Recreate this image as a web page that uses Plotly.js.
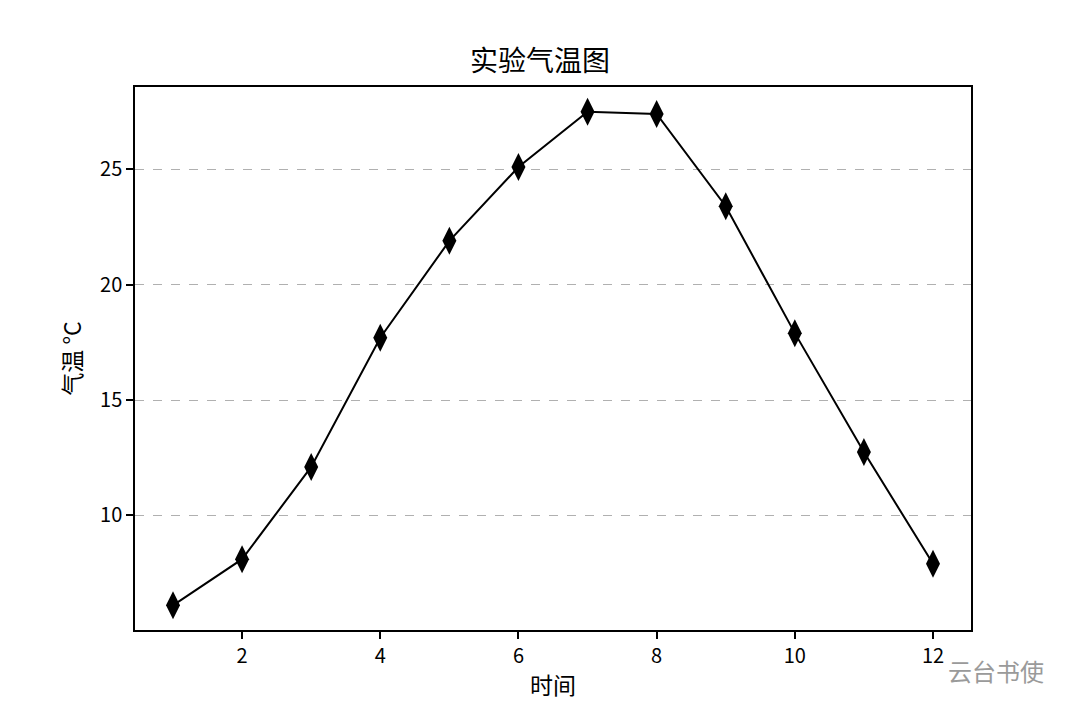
<!DOCTYPE html>
<html>
<head>
<meta charset="utf-8">
<script src="https://cdn.plot.ly/plotly-3.0.1.min.js"></script>
<style>
  body { margin: 0; background: #fff; }
  #plot-temp { width: 1080px; height: 720px; }
</style>
</head>
<body>
<div id="plot-temp"></div>
<script>
var hours = [1, 2, 3, 4, 5, 6, 7, 8, 9, 10, 11, 12];
var temps = [6.1, 8.1, 12.1, 17.7, 21.9, 25.1, 27.5, 27.4, 23.4, 17.9, 12.75, 7.9];
var xTicks = [2, 4, 6, 8, 10, 12];
var yTicks = [10, 15, 20, 25];

function plot_temp() {
    'use strict';

    var font = '"Noto Sans CJK SC", "DejaVu Sans", sans-serif';

    var trace = {
        type: "scatter",
        mode: "lines+markers",
        x: hours,
        y: temps,
        line: {color: "#000", width: 2},
        marker: {symbol: "diamond-tall", size: 20, color: "#000"}
    };

    var layout = {
        width: 1080,
        height: 720,
        margin: {l: 135, r: 109, t: 87, b: 90, pad: 0},
        showlegend: false,
        paper_bgcolor: "#fff",
        plot_bgcolor: "#fff",
        font: {family: font, size: 20, color: "#000"},
        title: {
            text: "实验气温图",
            font: {family: font, size: 28, color: "#000"},
            x: 0.5, xanchor: "center",
            y: 0.915, yanchor: "middle"
        },
        xaxis: {
            range: [0.45, 12.55],
            tickvals: xTicks,
            tickfont: {family: font, size: 20},
            ticks: "outside", ticklen: 7, tickwidth: 1.5, tickcolor: "#000",
            showgrid: false, zeroline: false,
            showline: true, linecolor: "#000", linewidth: 1.5, mirror: true,
            title: {text: "时间", font: {family: font, size: 23}, standoff: 10}
        },
        yaxis: {
            range: [5.03, 28.57],
            tickvals: yTicks,
            tickfont: {family: font, size: 20},
            ticks: "outside", ticklen: 7, tickwidth: 1.5, tickcolor: "#000",
            showgrid: true, gridcolor: "#b0b0b0", griddash: "dash", gridwidth: 1.2,
            zeroline: false,
            showline: true, linecolor: "#000", linewidth: 1.5, mirror: true,
            title: {text: "气温 °C", font: {family: font, size: 23}, standoff: 12}
        },
        annotations: [{
            text: "云台书使",
            xref: "paper", yref: "paper",
            x: 1.09, y: -0.075,
            xanchor: "right", yanchor: "middle",
            showarrow: false,
            font: {family: font, size: 24, color: "#9a9a9a"}
        }]
    };

    Plotly.newPlot('plot-temp', [trace], layout, {displayModeBar: false});
}

plot_temp();
</script>
</body>
</html>
